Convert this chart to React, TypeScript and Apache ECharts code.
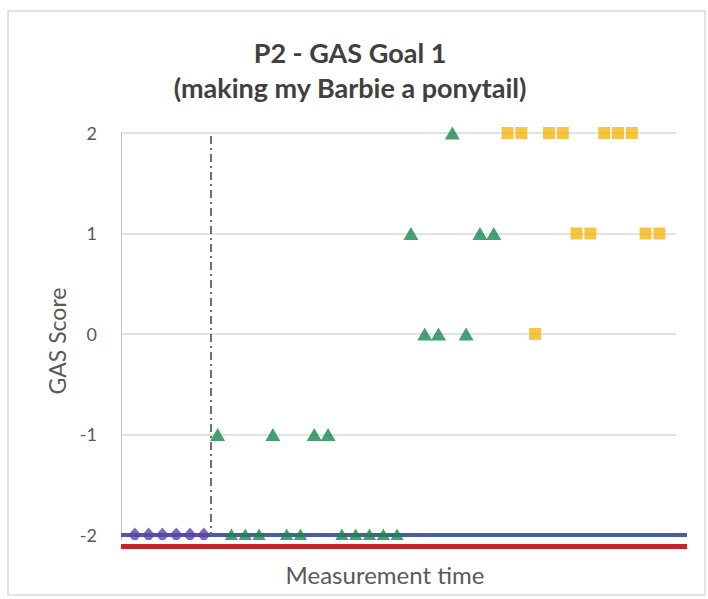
import React, { useEffect, useRef } from "react";
import * as echarts from "echarts";

// Session numbers (measurement time) and GAS scores, per phase
const baselineSessions = [1, 2, 3, 4, 5, 6];
const baselineScores = [-2, -2, -2, -2, -2, -2];

const interventionSessions = [7, 8, 9, 10, 11, 12, 13, 14, 15, 16, 17, 18, 19, 20, 21, 22, 23, 24, 25, 26, 27];
const interventionScores = [-1, -2, -2, -2, -1, -2, -2, -1, -1, -2, -2, -2, -2, -2, 1, 0, 0, 2, 0, 1, 1];

const followUpSessions = [28, 29, 30, 31, 32, 33, 34, 35, 36, 37, 38, 39];
const followUpScores = [2, 2, 0, 2, 2, 1, 1, 2, 2, 2, 1, 1];

const yTickValues = [-2, -1, 0, 1, 2];
const gridLineLevels = [-1, 0, 1, 2];
const phaseChangeAt = 6.5;
const expectedLevel = -2;
const baseLevel = -2.115;

const X_MIN = 0;
const X_MAX = 41;
const GRID_END = 40.2;

const pair = (xs: number[], ys: number[]) => xs.map((x, i) => [x, ys[i]]);

const FONT = "Lato, 'Open Sans', sans-serif";

export default function App() {
  const ref = useRef<HTMLDivElement>(null);

  useEffect(() => {
    if (!ref.current) return;
    const chart = echarts.init(ref.current, undefined, { renderer: "svg" });
    chart.setOption({
      animation: false,
      backgroundColor: "#ffffff",
      title: {
        text: "P2 - GAS Goal 1\n(making my Barbie a ponytail)",
        left: 345,
        textAlign: "center",
        top: 30,
        textStyle: {
          fontFamily: FONT,
          fontSize: 27,
          fontWeight: "bold",
          color: "#404040",
          lineHeight: 35,
        },
      },
      graphic: [
        {
          type: "rect",
          shape: { x: 8, y: 11, width: 697, height: 584 },
          style: { fill: "none", stroke: "#d9d9d9", lineWidth: 1.5 },
          silent: true,
        },
      ],
      grid: { left: 121, top: 133, width: 566, height: 416 },
      xAxis: {
        type: "value",
        min: X_MIN,
        max: X_MAX,
        axisLine: { show: false },
        axisTick: { show: false },
        axisLabel: { show: false },
        splitLine: { show: false },
        name: "Measurement time",
        nameLocation: "middle",
        nameGap: 13,
        nameTextStyle: {
          fontFamily: FONT,
          fontSize: 24,
          color: "#595959",
          padding: [0, 38, 0, 0],
        },
      },
      yAxis: {
        type: "value",
        min: -2.14,
        max: 2,
        axisLine: { show: true, lineStyle: { color: "#bfbfbf", width: 1 } },
        axisTick: { show: false },
        splitLine: { show: false },
        axisLabel: {
          customValues: yTickValues,
          fontFamily: FONT,
          fontSize: 18,
          color: "#595959",
          margin: 24,
        },
        name: "GAS Score",
        nameLocation: "middle",
        nameGap: 52,
        nameTextStyle: { fontFamily: FONT, fontSize: 23, color: "#595959" },
      },
      series: [
        {
          type: "line",
          data: [],
          z: 0,
          silent: true,
          markLine: {
            z: 0,
            silent: true,
            symbol: "none",
            label: { show: false },
            lineStyle: { color: "#d9d9d9", width: 1.5, type: "solid" },
            data: gridLineLevels.map((v) => [
              { coord: [X_MIN, v] },
              { coord: [GRID_END, v] },
            ]),
          },
        },
        {
          type: "line",
          data: [],
          z: 1,
          silent: true,
          markLine: {
            z: 1,
            silent: true,
            symbol: "none",
            label: { show: false },
            lineStyle: { color: "#404040", width: 1.5, type: [8, 4, 2, 4] },
            data: [[{ coord: [phaseChangeAt, 1.97] }, { coord: [phaseChangeAt, expectedLevel] }]],
          },
        },
        {
          type: "line",
          data: [],
          z: 2,
          silent: true,
          markLine: {
            z: 2,
            silent: true,
            symbol: "none",
            label: { show: false },
            lineStyle: { color: "#4a5ca3", width: 4, type: "solid" },
            data: [[{ coord: [X_MIN, expectedLevel] }, { coord: [X_MAX, expectedLevel] }]],
          },
        },
        {
          name: "Baseline",
          type: "scatter",
          data: pair(baselineSessions, baselineScores),
          symbol: "diamond",
          symbolSize: [13, 15],
          itemStyle: { color: "#5b45aa" },
          z: 3,
        },
        {
          name: "Intervention",
          type: "scatter",
          data: pair(interventionSessions, interventionScores),
          symbol: "triangle",
          symbolSize: [15, 13],
          itemStyle: { color: "#17884f" },
          z: 3,
        },
        {
          name: "Follow-up",
          type: "scatter",
          data: pair(followUpSessions, followUpScores),
          symbol: "rect",
          symbolSize: [12, 12],
          itemStyle: { color: "#f4b814" },
          z: 3,
        },
        {
          type: "line",
          data: [],
          z: 6,
          silent: true,
          markLine: {
            z: 6,
            silent: true,
            symbol: "none",
            label: { show: false },
            data: [
              [
                { coord: [X_MIN, -2.063], lineStyle: { color: "#ffffff", width: 4, type: "solid" } },
                { coord: [X_MAX, -2.063] },
              ],
              [
                { coord: [X_MIN, baseLevel], lineStyle: { color: "#c0262c", width: 5, type: "solid" } },
                { coord: [X_MAX, baseLevel] },
              ],
            ],
          },
        },
      ],
    });
    return () => chart.dispose();
  }, []);

  return (
    <div
      ref={ref}
      style={{ position: "fixed", left: 0, top: 0, width: 708, height: 599 }}
    />
  );
}
